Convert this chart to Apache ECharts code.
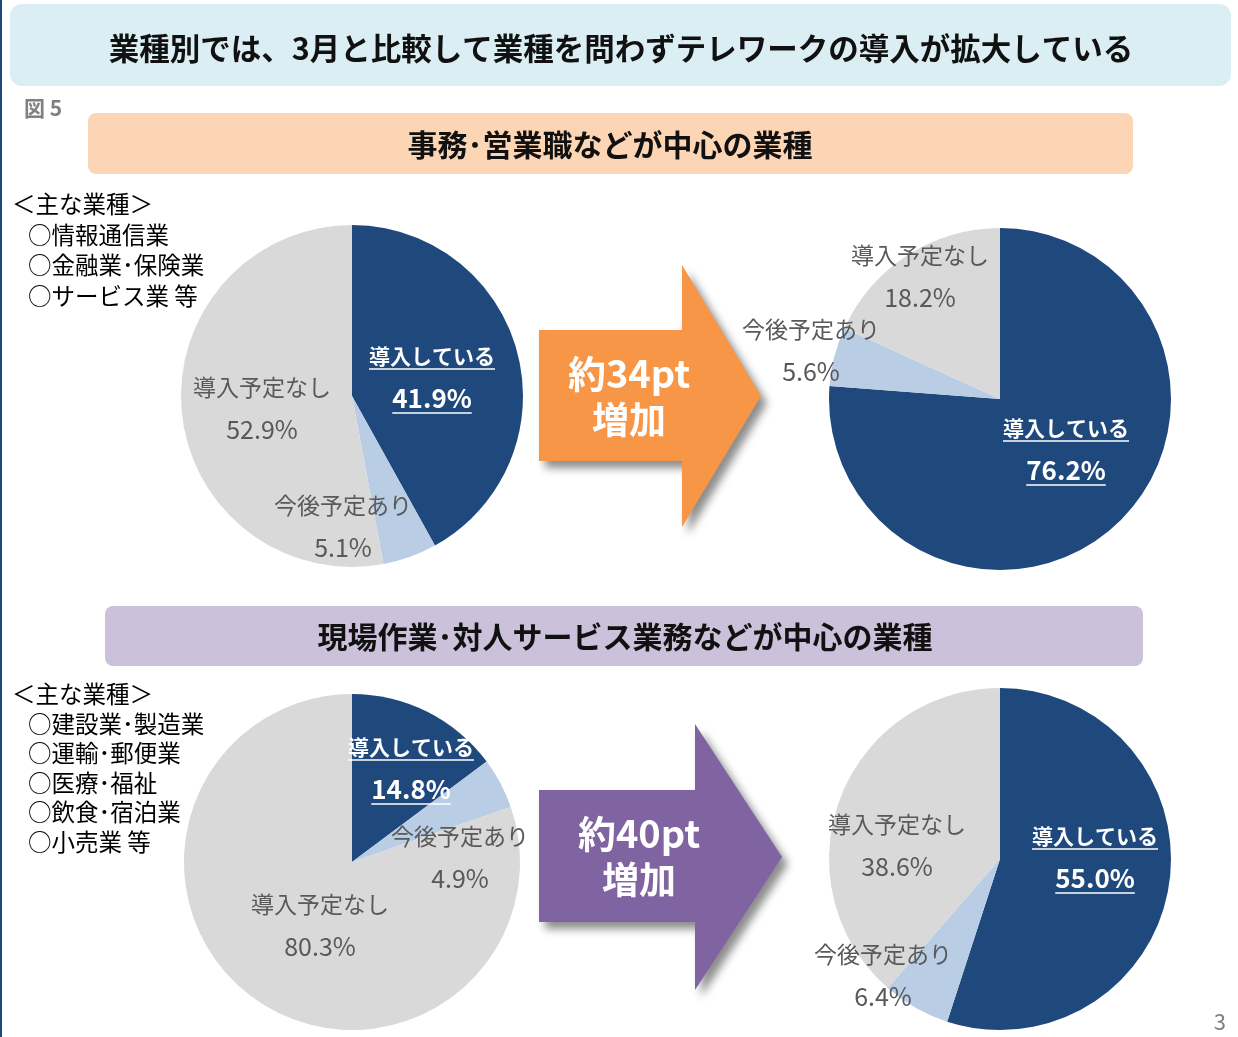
<!DOCTYPE html>
<html>
<head>
<meta charset="utf-8">
<script src="https://cdn.jsdelivr.net/npm/echarts@6/dist/echarts.min.js"></script>
<style>
  html, body { margin: 0; padding: 0; background: #fff; }
  #app { width: 1238px; height: 1037px; }
</style>
</head>
<body>
<div id="app"></div>
<script>
const FONT = '"Noto Sans CJK JP", "Noto Sans", sans-serif';

// data
const categories = ['導入している', '今後予定あり', '導入予定なし'];
const officeMarch = [41.9, 5.1, 52.9];
const officeNow = [76.2, 5.6, 18.2];
const fieldMarch = [14.8, 4.9, 80.3];
const fieldNow = [55.0, 6.4, 38.6];
const officeTypes = ['＜主な業種＞', '○情報通信業', '○金融業･保険業', '○サービス業 等'];
const fieldTypes = ['＜主な業種＞', '○建設業･製造業', '○運輸･郵便業', '○医療･福祉', '○飲食･宿泊業', '○小売業 等'];
const gains = ['約34pt', '約40pt'];
const titleText = '業種別では、3月と比較して業種を問わずテレワークの導入が拡大している';
const sectionTitles = ['事務･営業職などが中心の業種', '現場作業･対人サービス業務などが中心の業種'];

const colors = ['#1f497d', '#b9cde5', '#d9d9d9'];

// pie geometry and label centres (per category index)
const pies = [
  { values: officeMarch, center: [352, 396], r: 171, labels: [[432, 377], [343, 526], [262, 408]] },
  { values: officeNow, center: [1000, 399], r: 171, labels: [[1066, 449], [811, 350], [920, 276]] },
  { values: fieldMarch, center: [352, 862], r: 168, labels: [[411, 768], [460, 857], [320, 925]] },
  { values: fieldNow, center: [1000, 859], r: 171, labels: [[1095, 857], [883, 975], [897, 845]] }
];
const LH = 42;

const app = document.getElementById('app');
const myChart = echarts.init(app);

const ctx = document.createElement('canvas').getContext('2d');
function textWidth(t, font) {
  ctx.font = font;
  return ctx.measureText(t).width;
}

const series = pies.map(function (p) {
  return {
    type: 'pie',
    center: p.center,
    radius: p.r,
    startAngle: 90,
    clockwise: true,
    silent: true,
    animation: false,
    emphasis: { disabled: true },
    labelLine: { show: false },
    data: categories.map(function (c, i) {
      return { name: c, value: p.values[i], itemStyle: { color: colors[i] } };
    }),
    label: {
      show: true,
      position: 'inside',
      formatter: function (params) {
        const k = params.dataIndex === 0 ? 'w' : 'g';
        return '{' + k + '1|' + params.name + '}\n{' + k + '2|' + params.value.toFixed(1) + '%}';
      },
      rich: {
        w1: { color: '#fff', fontWeight: 'bold', fontSize: 21, lineHeight: LH, fontFamily: FONT },
        w2: { color: '#fff', fontWeight: 'bold', fontSize: 26, lineHeight: LH, fontFamily: FONT },
        g1: { color: '#595959', fontSize: 23, lineHeight: LH, fontFamily: FONT },
        g2: { color: '#595959', fontSize: 25, lineHeight: LH, fontFamily: FONT }
      }
    },
    labelLayout: function (params) {
      const pos = p.labels[params.dataIndex];
      return { x: pos[0], y: pos[1], align: 'center', verticalAlign: 'middle' };
    }
  };
});

const graphic = [];

// left frame line
graphic.push({ type: 'line', shape: { x1: 1, y1: 0, x2: 1, y2: 1037 }, style: { stroke: '#1f497d', lineWidth: 2 } });

// title banner
graphic.push({ type: 'rect', shape: { x: 10, y: 4, width: 1221, height: 82, r: 12 }, style: { fill: '#dbeef4' } });
graphic.push({ type: 'text', x: 621, y: 48, style: { text: titleText, fill: '#111', font: 'bold 30.5px ' + FONT, textAlign: 'center', textVerticalAlign: 'middle' } });
graphic.push({ type: 'text', x: 24, y: 108, style: { text: '図 5', fill: '#808080', font: 'bold 21px ' + FONT, textAlign: 'left', textVerticalAlign: 'middle' } });

// section banners
graphic.push({ type: 'rect', shape: { x: 88, y: 113, width: 1045, height: 61, r: 8 }, style: { fill: '#fcd5b4' } });
graphic.push({ type: 'text', x: 610, y: 145, style: { text: sectionTitles[0], fill: '#111', font: 'bold 30px ' + FONT, textAlign: 'center', textVerticalAlign: 'middle' } });
graphic.push({ type: 'rect', shape: { x: 105, y: 606, width: 1038, height: 60, r: 8 }, style: { fill: '#ccc1da' } });
graphic.push({ type: 'text', x: 625, y: 637, style: { text: sectionTitles[1], fill: '#111', font: 'bold 30px ' + FONT, textAlign: 'center', textVerticalAlign: 'middle' } });

// industry lists
function addList(list, y0, step) {
  list.forEach(function (t, i) {
    graphic.push({ type: 'text', x: i === 0 ? 12 : 28, y: y0 + i * step, style: { text: t, fill: '#000', font: '23.5px ' + FONT, textAlign: 'left', textVerticalAlign: 'middle' } });
  });
}
addList(officeTypes, 204, 30.7);
addList(fieldTypes, 694, 29.6);

// arrows
function addArrow(x0, bodyTop, bodyBot, headX, headTop, headBot, tipX, fill, label, tx, ty) {
  const tipY = (headTop + headBot) / 2;
  graphic.push({
    type: 'polygon',
    shape: { points: [[x0, bodyTop], [headX, bodyTop], [headX, headTop], [tipX, tipY], [headX, headBot], [headX, bodyBot], [x0, bodyBot]] },
    style: { fill: fill, shadowBlur: 8, shadowOffsetX: 6, shadowOffsetY: 7, shadowColor: 'rgba(0,0,0,0.45)' }
  });
  graphic.push({ type: 'text', x: tx, y: ty - 23, style: { text: label, fill: '#fff', font: 'bold 38px ' + FONT, textAlign: 'center', textVerticalAlign: 'middle' } });
  graphic.push({ type: 'text', x: tx, y: ty + 23, style: { text: '増加', fill: '#fff', font: 'bold 37px ' + FONT, textAlign: 'center', textVerticalAlign: 'middle' } });
}
addArrow(539, 330, 461, 682, 265, 527, 761, '#f79646', gains[0], 629, 397);
addArrow(539, 790, 922, 695, 724, 990, 782, '#8064a2', gains[1], 639, 857);

// underlines for the "導入している" labels
pies.forEach(function (p) {
  const c = p.labels[0];
  const t1 = categories[0];
  const t2 = p.values[0].toFixed(1) + '%';
  const w1 = textWidth(t1, 'bold 21px ' + FONT);
  const w2 = textWidth(t2, 'bold 26px ' + FONT);
  const y1 = c[1] - LH / 2 + 13;
  const y2 = c[1] + LH / 2 + 15;
  graphic.push({ type: 'line', z: 100, shape: { x1: c[0] - w1 / 2, y1: y1, x2: c[0] + w1 / 2, y2: y1 }, style: { stroke: '#fff', lineWidth: 1.5 } });
  graphic.push({ type: 'line', z: 100, shape: { x1: c[0] - w2 / 2, y1: y2, x2: c[0] + w2 / 2, y2: y2 }, style: { stroke: '#fff', lineWidth: 1.5 } });
});

// page number
graphic.push({ type: 'text', x: 1226, y: 1022, style: { text: '3', fill: '#808080', font: '22px ' + FONT, textAlign: 'right', textVerticalAlign: 'middle' } });

const option = {
  backgroundColor: '#fff',
  animation: false,
  textStyle: { fontFamily: FONT },
  graphic: graphic,
  series: series
};
myChart.setOption(option);
</script>
</body>
</html>
